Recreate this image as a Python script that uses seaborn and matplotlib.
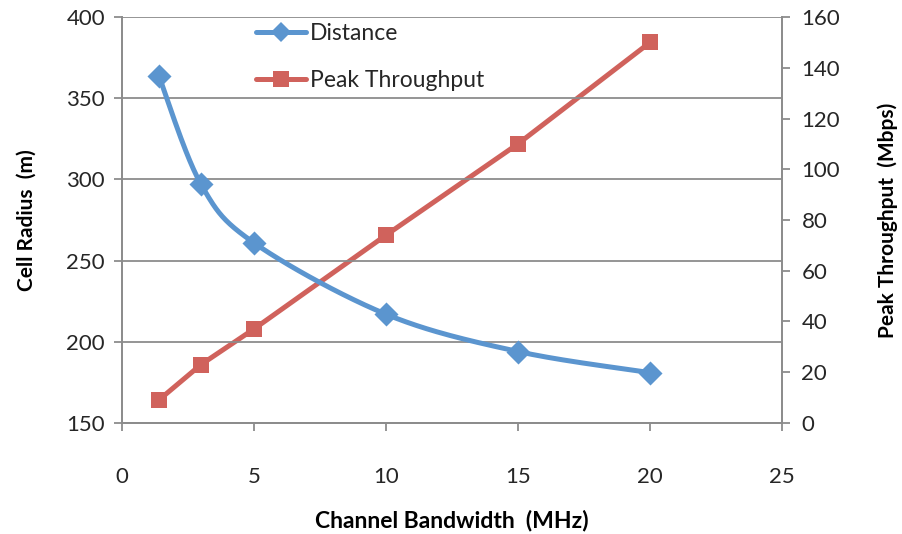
import numpy as np
import pandas as pd
import matplotlib
matplotlib.use("Agg")
import matplotlib.pyplot as plt
from matplotlib.lines import Line2D
import seaborn as sns

# Channel bandwidth (MHz) and the two measured series
bandwidth = [1.4, 3, 5, 10, 15, 20]
cell_radius = [364, 297, 261, 217, 194, 181]          # m
peak_throughput = [9, 23, 37, 74, 110, 150]            # Mbps

x_ticks = [0, 5, 10, 15, 20, 25]
left_ticks = [150, 200, 250, 300, 350, 400]
right_ticks = [0, 20, 40, 60, 80, 100, 120, 140, 160]

BLUE = "#5B95CF"
RED = "#D0625C"
GRID = "#8C8C8C"
TEXT = "#262626"

sns.set_theme(style="white")
plt.rcParams["font.family"] = ["Lato", "DejaVu Sans"]


def smooth_curve(xs, ys, n=40):
    """Cubic Bezier smoothing through every point (spreadsheet-style)."""
    xs = np.asarray(xs, float)
    ys = np.asarray(ys, float)
    pts = np.column_stack([xs, ys])
    out = []
    for i in range(len(pts) - 1):
        p0 = pts[i - 1] if i > 0 else pts[i]
        p1 = pts[i]
        p2 = pts[i + 1]
        p3 = pts[i + 2] if i + 2 < len(pts) else pts[i + 1]
        c1 = p1 + (p2 - p0) / 6.0
        c2 = p2 - (p3 - p1) / 6.0
        t = np.linspace(0, 1, n)[:, None]
        seg = ((1 - t) ** 3) * p1 + 3 * ((1 - t) ** 2) * t * c1 \
            + 3 * (1 - t) * t ** 2 * c2 + t ** 3 * p2
        out.append(seg if i == 0 else seg[1:])
    seg = np.vstack(out)
    return seg[:, 0], seg[:, 1]


df = pd.DataFrame({"bw": bandwidth, "radius": cell_radius,
                   "tput": peak_throughput})

fig = plt.figure(figsize=(9.02, 5.34), dpi=100)
ax = fig.add_axes([0.135, 0.208, 0.732, 0.760])
ax2 = ax.twinx()

# Left axis: cell radius, smoothed line with diamond markers
sx, sy = smooth_curve(df["bw"], df["radius"])
ax.plot(sx, sy, color=BLUE, lw=3.6, solid_capstyle="round", zorder=3)
sns.scatterplot(data=df, x="bw", y="radius", ax=ax, marker="D", s=150,
                color=BLUE, edgecolor=BLUE, linewidth=0, zorder=4, legend=False)

# Right axis: peak throughput, straight line with square markers
sns.lineplot(data=df, x="bw", y="tput", ax=ax2, color=RED, lw=3.6,
             marker="s", markersize=12, markeredgewidth=0, legend=False)

ax.set_xlim(0, 25)
ax.set_ylim(150, 400)
ax2.set_ylim(0, 160)
ax.set_xticks(x_ticks)
ax.set_yticks(left_ticks)
ax2.set_yticks(right_ticks)
ax.set_xticklabels([str(v) for v in x_ticks])

ax.yaxis.grid(True, color=GRID, lw=1.3)
ax.xaxis.grid(False)
ax2.grid(False)
ax.set_axisbelow(True)
ax.set_zorder(ax2.get_zorder() + 1)
ax.patch.set_visible(False)

for a in (ax, ax2):
    for side, sp in a.spines.items():
        sp.set_color(GRID)
        sp.set_linewidth(1.3)
    a.spines["top"].set_visible(False)

ax.tick_params(axis="x", direction="out", length=6, width=1.3, color=GRID,
               pad=26, labelsize=16, labelcolor=TEXT, bottom=True)
ax.tick_params(axis="y", direction="out", length=6, width=1.3, color=GRID,
               pad=6, labelsize=16, labelcolor=TEXT, left=True)
ax2.tick_params(axis="y", direction="out", length=6, width=1.3, color=GRID,
                pad=8, labelsize=16, labelcolor=TEXT, right=True)

ax.set_xlabel("Channel Bandwidth  (MHz)", fontsize=16.5, fontweight="bold",
              color="black")
ax.set_ylabel("Cell Radius  (m)", fontsize=15, fontweight="bold",
              color="black")
ax2.set_ylabel("Peak Throughput  (Mbps)", fontsize=15, fontweight="bold",
               color="black")
ax.xaxis.set_label_coords(0.5, -0.213)
ax.yaxis.set_label_coords(-0.129, 0.5)
ax2.yaxis.set_label_coords(1.144, 0.5)

handles = [
    Line2D([], [], color=BLUE, lw=3.6, marker="D", markersize=10,
           markeredgewidth=0),
    Line2D([], [], color=RED, lw=3.6, marker="s", markersize=12,
           markeredgewidth=0),
]
leg = ax.legend(handles, ["Distance", "Peak Throughput"], loc="upper left",
                bbox_to_anchor=(0.182, 1.02), frameon=False, fontsize=16.5,
                handlelength=2.2, handletextpad=0.15, labelspacing=1.15,
                borderaxespad=0.2)
for t in leg.get_texts():
    t.set_color(TEXT)

fig.savefig("out.png", dpi=100, facecolor="white")
